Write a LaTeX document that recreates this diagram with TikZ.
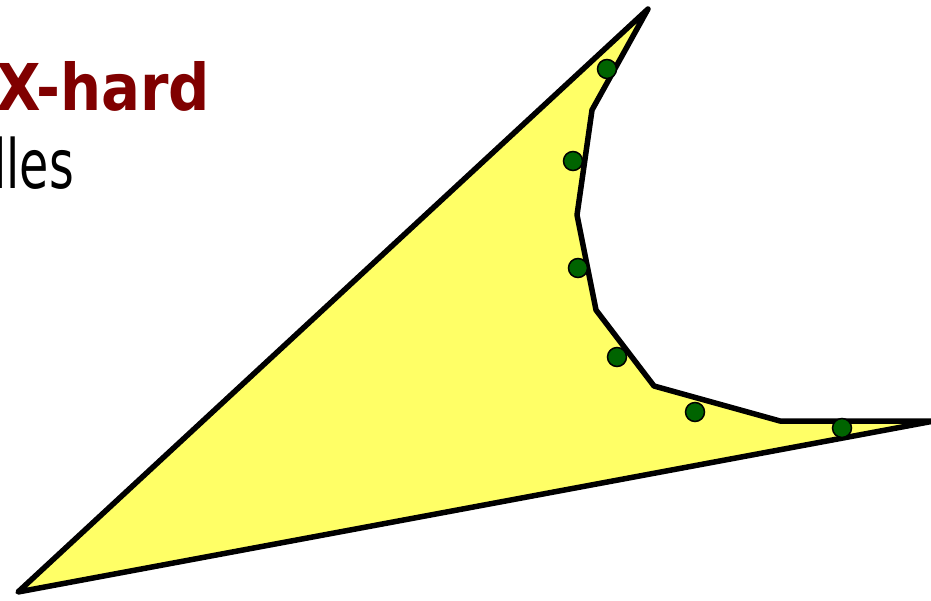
\documentclass[tikz,border=0pt]{standalone}
\usepackage{fontspec}
\setmainfont{DejaVu Sans}
\definecolor{hardred}{RGB}{128,0,0}
\definecolor{shapeyellow}{RGB}{255,255,102}
\definecolor{dotgreen}{RGB}{0,100,0}
\tikzset{
  region/.style={draw=black, fill=shapeyellow, line width=5.5pt, line join=round},
  gdot/.style={circle, draw=black, fill=dotgreen, line width=1.5pt, minimum size=19pt, inner sep=0pt},
  bigtext/.style={inner sep=0pt, outer sep=0pt}
}
\begin{document}
\begin{tikzpicture}[x=1pt,y=-1pt]
\useasboundingbox (0,0) rectangle (931,600);
\clip (0,0) rectangle (931,600);
\coordinate (p1) at (648,9);
\coordinate (p2) at (592,110);
\coordinate (p3) at (577,215);
\coordinate (p4) at (596,310);
\coordinate (p5) at (654,386);
\coordinate (p6) at (780,421);
\coordinate (p7) at (934,421);
\coordinate (p8) at (18,592);
\draw[region] (p1) -- (p2) -- (p3) -- (p4) -- (p5) -- (p6) -- (p7) -- (p8) -- cycle;
\node[gdot] (d1) at (607,69) {};
\node[gdot] (d2) at (573,161) {};
\node[gdot] (d3) at (578,268) {};
\node[gdot] (d4) at (617,357) {};
\node[gdot] (d5) at (695,412) {};
\node[gdot] (d6) at (842,428) {};
\node[bigtext, anchor=base east, text=hardred, font=\bfseries\fontsize{64.5}{64.5}\selectfont] (t1) at (210,110) {\scalebox{0.895}[1]{APX-hard}};
\node[bigtext, anchor=base east, text=black, font=\fontsize{68}{68}\selectfont] (t2) at (74,188) {\scalebox{0.7}[1]{dles}};
\end{tikzpicture}
\end{document}
